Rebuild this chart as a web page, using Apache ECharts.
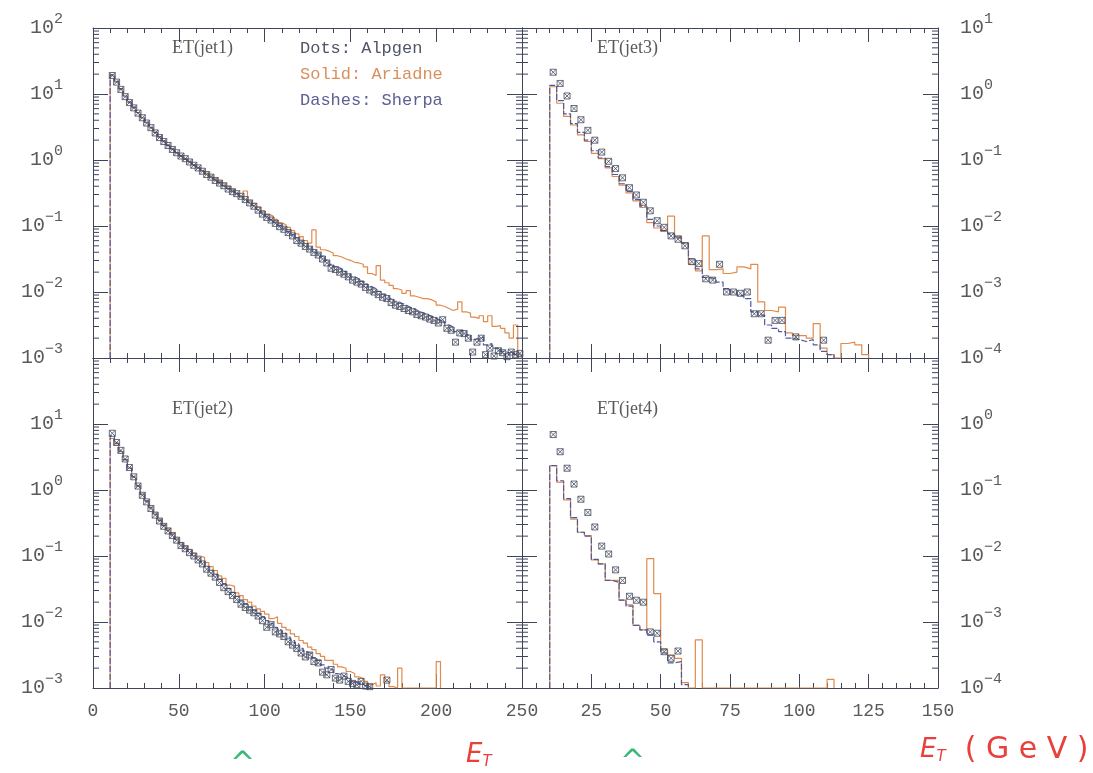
<!DOCTYPE html>
<html><head><meta charset="utf-8">
<script src="https://cdn.jsdelivr.net/npm/echarts@6/dist/echarts.min.js"></script>
<style>html,body{margin:0;padding:0;background:#fff;}#chart{width:1093px;height:773px;}</style>
</head><body><div id="chart"></div>
<script>
// ---------------- DATA (histograms, 2.5 GeV bins starting at 10 GeV; values stored as log10) ----------------
const BIN_START = 10, BIN_WIDTH = 2.5;
const panelTitles = ['ET(jet1)', 'ET(jet2)', 'ET(jet3)', 'ET(jet4)'];
const legendLabels = ['Dots: Alpgen', 'Solid: Ariadne', 'Dashes: Sherpa'];
const leftXTicks = [0, 50, 100, 150, 200, 250];
const rightXTicks = [0, 25, 50, 75, 100, 125, 150];
const leftYExponents = [-3, -2, -1, 0, 1, 2];
const rightYExponents = [-4, -3, -2, -1, 0, 1];

const jet1AlpgenLog10 = [1.28,1.18,1.07,0.96,0.87,0.79,0.71,0.64,0.56,0.49,0.41,0.34,0.28,0.22,0.16,0.11,0.06,0.02,-0.03,-0.08,
 -0.12,-0.17,-0.22,-0.26,-0.31,-0.35,-0.39,-0.44,-0.48,-0.51,-0.55,-0.60,-0.65,-0.70,-0.76,-0.82,-0.87,-0.91,-0.96,-1.01,
 -1.05,-1.10,-1.15,-1.22,-1.26,-1.31,-1.35,-1.40,-1.44,-1.50,-1.56,-1.64,-1.66,-1.70,-1.73,-1.77,-1.82,-1.85,-1.88,-1.93,
 -1.97,-2.00,-2.04,-2.08,-2.10,-2.16,-2.20,-2.22,-2.25,-2.28,-2.30,-2.34,-2.36,-2.38,-2.41,-2.43,-2.47,-2.42,-2.55,-2.58,
 -2.76,-2.62,-2.63,-2.70,-2.91,-2.76,-2.70,-2.95,-2.85,-2.97,-2.89,-2.92,-2.98,-2.91,-2.95,-2.93];
const jet1AriadneLog10 = [1.29,1.18,1.07,0.97,0.87,0.79,0.72,0.64,0.57,0.49,0.42,0.35,0.28,0.23,0.17,0.11,0.07,0.02,-0.02,-0.07,
 -0.11,-0.16,-0.20,-0.24,-0.28,-0.32,-0.36,-0.40,-0.45,-0.50,-0.56,-0.47,-0.62,-0.66,-0.71,-0.77,-0.82,-0.85,-0.90,-0.95,
 -0.98,-1.02,-1.07,-1.12,-1.16,-1.22,-1.26,-1.06,-1.32,-1.36,-1.38,-1.41,-1.45,-1.47,-1.50,-1.52,-1.55,-1.56,-1.58,-1.62,
 -1.72,-1.75,-1.60,-1.82,-1.86,-1.90,-1.95,-1.97,-2.02,-1.98,-2.06,-2.08,-2.10,-2.10,-2.12,-2.15,-2.20,-2.22,-2.25,-2.28,
 -2.26,-2.15,-2.30,-2.32,-2.38,-2.40,-2.36,-2.45,-2.36,-2.52,-2.51,-2.55,-2.62,-2.70,-2.50,null];
const jet1SherpaLog10 = [1.29,1.19,1.08,0.97,0.88,0.80,0.72,0.64,0.57,0.49,0.42,0.35,0.29,0.22,0.17,0.11,0.06,0.01,-0.03,-0.08,
 -0.12,-0.17,-0.21,-0.26,-0.30,-0.34,-0.39,-0.43,-0.47,-0.51,-0.55,-0.60,-0.64,-0.69,-0.75,-0.80,-0.85,-0.90,-0.94,-0.99,
 -1.03,-1.08,-1.13,-1.18,-1.23,-1.27,-1.32,-1.36,-1.41,-1.46,-1.52,-1.58,-1.62,-1.65,-1.69,-1.73,-1.77,-1.80,-1.84,-1.88,
 -1.92,-1.95,-1.99,-2.03,-2.06,-2.10,-2.14,-2.17,-2.20,-2.23,-2.26,-2.29,-2.32,-2.34,-2.37,-2.40,-2.43,-2.46,-2.50,-2.53,
 -2.60,-2.58,-2.60,-2.65,-2.72,-2.70,-2.68,-2.80,-2.78,-2.85,-2.86,-2.90,-2.92,-2.90,-2.94,-2.96];

const jet2AlpgenLog10 = [0.86,0.72,0.60,0.47,0.34,0.20,0.06,-0.08,-0.18,-0.28,-0.38,-0.47,-0.55,-0.62,-0.69,-0.76,-0.84,-0.89,-0.95,-1.00,
 -1.06,-1.12,-1.20,-1.26,-1.32,-1.40,-1.48,-1.54,-1.60,-1.66,-1.73,-1.78,-1.82,-1.86,-1.91,-1.98,-2.08,-2.04,-2.15,-2.18,
 -2.22,-2.30,-2.35,-2.40,-2.47,-2.53,-2.50,-2.60,-2.62,-2.76,-2.80,-2.72,-2.85,-2.88,-2.82,-2.90,-2.93,-2.95,-2.90,-2.97,
 -2.98,null,null,null,-2.88];
const jet2AriadneLog10 = [0.78,0.70,0.58,0.46,0.33,0.20,0.07,-0.06,-0.16,-0.26,-0.35,-0.44,-0.52,-0.59,-0.66,-0.73,-0.80,-0.85,-0.90,-0.96,
 -1.00,-1.02,-1.10,-1.16,-1.22,-1.30,-1.34,-1.44,-1.46,-1.56,-1.60,-1.66,-1.70,-1.76,-1.80,-1.84,-1.88,-1.95,-1.92,-2.02,
 -2.08,-2.12,-2.18,-2.22,-2.28,-2.32,-2.38,-2.42,-2.48,-2.52,-2.58,-2.58,-2.64,-2.68,-2.70,-2.75,-2.78,-2.83,-2.86,-2.90,
 -2.95,-2.92,-2.97,-2.80,-2.90,-2.98,null,-2.70,null,null,null,null,null,null,null,null,-2.60];
const jet2SherpaLog10 = [0.82,0.71,0.59,0.46,0.33,0.20,0.06,-0.07,-0.17,-0.27,-0.37,-0.46,-0.54,-0.61,-0.68,-0.75,-0.82,-0.88,-0.93,-0.99,
 -1.04,-1.09,-1.16,-1.22,-1.28,-1.35,-1.42,-1.49,-1.55,-1.61,-1.67,-1.72,-1.77,-1.82,-1.87,-1.92,-1.98,-2.02,-2.08,-2.12,
 -2.17,-2.23,-2.28,-2.33,-2.40,-2.45,-2.48,-2.54,-2.58,-2.65,-2.70,-2.72,-2.78,-2.80,-2.83,-2.86,-2.90,-2.93,-2.95,-2.97,-2.99];

const jet3AlpgenLog10 = [0.33,0.16,-0.03,-0.22,-0.39,-0.55,-0.70,-0.88,-1.02,-1.13,-1.27,-1.42,-1.53,-1.64,-1.77,-1.92,-2.02,-2.15,-2.20,-2.30,
 -2.54,-2.57,-2.80,-2.82,-2.58,-3.00,-3.00,-3.02,-3.00,-3.33,-3.33,-3.73,-3.43,-3.43,null,-3.68,null,null,null,-3.73];
const jet3AriadneLog10 = [0.11,-0.14,-0.34,-0.47,-0.62,-0.72,-0.90,-0.98,-1.12,-1.25,-1.38,-1.50,-1.62,-1.72,-1.95,-2.03,-2.08,-1.85,-2.15,-2.25,
 -2.58,-2.68,-2.15,-2.66,-2.65,-2.72,-2.70,-2.62,-2.65,-2.58,-3.15,-3.28,-3.30,-3.23,-3.62,-3.66,-3.66,-3.70,-3.48,-3.85,
 -3.95,null,-3.78,-3.76,-3.80,-3.95];
const jet3SherpaLog10 = [0.13,-0.10,-0.30,-0.45,-0.58,-0.70,-0.86,-0.97,-1.10,-1.22,-1.36,-1.48,-1.60,-1.70,-1.90,-2.00,-2.07,-2.12,-2.18,-2.26,
 -2.50,-2.65,-2.78,-2.80,-2.85,-2.95,-3.00,-3.05,-3.10,-3.30,-3.35,-3.50,-3.55,-3.60,-3.70,-3.72,-3.75,-3.72,-3.80,-3.90,-3.95];

const jet4AlpgenLog10 = [-0.16,-0.42,-0.67,-0.91,-1.14,-1.34,-1.56,-1.85,-1.97,-2.21,-2.37,-2.61,-2.67,-2.70,-3.15,-3.17,-3.45,-3.55,-3.44];
const jet4AriadneLog10 = [-0.63,-0.88,-1.15,-1.44,-1.64,-1.69,-2.06,-2.12,-2.37,-2.37,-2.67,-2.74,-3.05,-3.12,-2.04,-2.57,-3.42,-3.50,-3.55,-3.92,
 null,-3.27,null,null,null,null,null,null,null,null,null,null,null,null,null,null,null,null,null,null,-3.87];
const jet4SherpaLog10 = [-0.63,-0.86,-1.13,-1.42,-1.64,-1.70,-2.05,-2.12,-2.37,-2.40,-2.67,-2.76,-3.05,-3.12,-3.20,-3.30,-3.47,-3.62,-3.60,-3.95];

// ---------------- STYLE ----------------
const AX = '#3e4459';
const TXT = '#5a5a5a';
const ORANGE = '#e08b4c';
const BLUE = '#4d5a9e';
const DOT = '#454b5e';
const MONO = '"Liberation Mono", "DejaVu Sans Mono", monospace';
const SERIF = '"Liberation Serif", "DejaVu Serif", serif';

const grids = [
  {left: 93, top: 28, width: 429, height: 330},   // jet1
  {left: 93, top: 358, width: 429, height: 330},  // jet2
  {left: 522, top: 28, width: 416, height: 330},  // jet3
  {left: 522, top: 358, width: 416, height: 330}  // jet4
];
const panelSpec = [
  {xmax: 250, xint: 50, ymin: 1e-3, ymax: 1e2, exps: leftYExponents, labelSide: 'left', showX: false, hideTop: false},
  {xmax: 250, xint: 50, ymin: 1e-3, ymax: 1e2, exps: leftYExponents, labelSide: 'left', showX: true, hideTop: true},
  {xmax: 150, xint: 25, ymin: 1e-4, ymax: 1e1, exps: rightYExponents, labelSide: 'right', showX: false, hideTop: false},
  {xmax: 150, xint: 25, ymin: 1e-4, ymax: 1e1, exps: rightYExponents, labelSide: 'right', showX: true, hideTop: true}
];
const panelData = [
  [jet1AlpgenLog10, jet1AriadneLog10, jet1SherpaLog10],
  [jet2AlpgenLog10, jet2AriadneLog10, jet2SherpaLog10],
  [jet3AlpgenLog10, jet3AriadneLog10, jet3SherpaLog10],
  [jet4AlpgenLog10, jet4AriadneLog10, jet4SherpaLog10]
];

function powLabel(v) {
  const e = Math.round(Math.log10(v));
  return '{b|10}{s|' + (e < 0 ? '\u2212' + (-e) : e) + '}';
}
const richY = {
  b: {fontSize: 20, fontFamily: MONO, color: TXT},
  s: {fontSize: 15, fontFamily: MONO, color: TXT, padding: [0, 0, 18, 0]}
};

function histPoints(vals, floor) {
  const pts = [[BIN_START, floor]];
  vals.forEach((lv, i) => {
    const y = lv === null ? floor : Math.pow(10, lv);
    const x0 = BIN_START + i * BIN_WIDTH, x1 = x0 + BIN_WIDTH;
    pts.push([x0, y], [x1, y]);
  });
  pts.push([BIN_START + vals.length * BIN_WIDTH, floor]);
  return pts;
}
function dotPoints(vals) {
  const out = [];
  vals.forEach((lv, i) => { if (lv !== null) out.push([BIN_START + (i + 0.5) * BIN_WIDTH, Math.pow(10, lv)]); });
  return out;
}
function minorLogValues(minExp, maxExp) {
  const out = [];
  for (let e = minExp; e < maxExp; e++) for (let m = 2; m <= 9; m++) out.push(m * Math.pow(10, e));
  return out;
}

const xAxes = [], yAxes = [], series = [];
grids.forEach((g, gi) => {
  const sp = panelSpec[gi];
  const isRight = gi >= 2;
  ['bottom', 'top'].forEach(pos => {
    xAxes.push({
      type: 'value', gridIndex: gi, position: pos, min: 0, max: sp.xmax, interval: sp.xint,
      axisLine: {show: true, onZero: false, lineStyle: {color: AX, width: 1}},
      axisTick: {show: true, inside: true, length: 14, lineStyle: {color: AX, width: 1}},
      minorTick: {show: true, splitNumber: 5, length: 5, lineStyle: {color: AX, width: 1}},
      splitLine: {show: false}, minorSplitLine: {show: false},
      axisLabel: {
        show: pos === 'bottom' && sp.showX, margin: 14, color: TXT, fontSize: 18, fontFamily: MONO,
        showMinLabel: !isRight, showMaxLabel: true
      }
    });
  });
  ['left', 'right'].forEach(pos => {
    yAxes.push({
      type: 'log', logBase: 10, gridIndex: gi, position: pos, min: sp.ymin, max: sp.ymax, splitNumber: 5,
      axisLine: {show: true, onZero: false, lineStyle: {color: AX, width: 1}},
      axisTick: {show: true, inside: true, length: 15, lineStyle: {color: AX, width: 1}},
      splitLine: {show: false},
      axisLabel: {
        show: pos === sp.labelSide, margin: pos === 'left' ? 30 : 22, formatter: powLabel, rich: richY,
        showMaxLabel: !sp.hideTop, showMinLabel: true
      }
    });
  });
  const floor = sp.ymin;
  const [alp, ari, she] = panelData[gi];
  series.push({
    type: 'line', xAxisIndex: gi * 2, yAxisIndex: gi * 2, data: histPoints(ari, floor),
    showSymbol: false, symbol: 'none', lineStyle: {color: ORANGE, width: 1.2}, z: 2, animation: false, silent: true
  });
  series.push({
    type: 'line', xAxisIndex: gi * 2, yAxisIndex: gi * 2, data: histPoints(she, floor),
    showSymbol: false, symbol: 'none', lineStyle: {color: BLUE, width: 1.2, type: [6, 2]}, z: 3, animation: false, silent: true
  });
  series.push({
    type: 'scatter', xAxisIndex: gi * 2, yAxisIndex: gi * 2, data: dotPoints(alp),
    symbol: 'path://M0,0H10V10H0Z M0,0L10,10 M10,0L0,10', symbolSize: 6,
    itemStyle: {color: 'rgba(255,255,255,0)', borderColor: DOT, borderWidth: 1}, z: 4, animation: false, silent: true
  });
  // log-axis minor ticks on both vertical edges (drawn through the axis scale)
  const minExp = Math.round(Math.log10(sp.ymin)), maxExp = Math.round(Math.log10(sp.ymax));
  const minors = minorLogValues(minExp, maxExp);
  [[0, 1], [sp.xmax, -1]].forEach(([xe, dir]) => {
    series.push({
      type: 'custom', xAxisIndex: gi * 2, yAxisIndex: gi * 2, clip: false, silent: true, animation: false, z: 5,
      data: minors.map(v => [xe, v, dir]),
      renderItem: function (params, api) {
        const p = api.coord([api.value(0), api.value(1)]);
        const d = api.value(2);
        return {type: 'line', shape: {x1: p[0], y1: p[1], x2: p[0] + d * 6, y2: p[1]}, style: {stroke: AX, lineWidth: 1}};
      }
    });
  });
});

const titlePos = [[172, 39], [172, 400], [597, 39], [597, 400]];
const graphic = panelTitles.map((t, i) => ({
  type: 'text', left: titlePos[i][0], top: titlePos[i][1],
  style: {text: t, font: '18px ' + SERIF, fill: TXT}
}));
const legendColors = ['#4f5468', '#d98f5c', '#5d6091'];
legendLabels.forEach((t, i) => graphic.push({
  type: 'text', left: 300, top: 40 + i * 26,
  style: {text: t, font: '17px ' + MONO, fill: legendColors[i]}
}));
// hand-written annotations below the plot
graphic.push({type: 'text', left: 466, top: 742, style: {rich: {e: {font: 'italic 26px "DejaVu Sans"', fill: '#e8403a'}, t: {font: 'italic 15px "DejaVu Sans"', fill: '#e8403a', padding: [14, 0, 0, 0]}}, text: '{e|E}{t|T}'}});
graphic.push({type: 'text', left: 920, top: 735, style: {rich: {e: {font: 'italic 26px "DejaVu Sans"', fill: '#e8403a'}, t: {font: 'italic 15px "DejaVu Sans"', fill: '#e8403a', padding: [14, 0, 0, 0]}, g: {font: '30px "DejaVu Sans"', fill: '#e8403a'}}, text: '{e|E}{t|T}{g|  ( G e V )}'}});
graphic.push({type: 'text', left: 230, top: 750, style: {text: '^', font: '30px "DejaVu Sans"', fill: '#3bb77a'}});
graphic.push({type: 'text', left: 620, top: 748, style: {text: '^', font: '30px "DejaVu Sans"', fill: '#3bb77a'}});

const chart = echarts.init(document.getElementById('chart'), null, {renderer: 'canvas'});
chart.setOption({
  backgroundColor: '#ffffff',
  animation: false,
  grid: grids.map(g => Object.assign({containLabel: false, outerBoundsMode: 'none'}, g)),
  xAxis: xAxes,
  yAxis: yAxes,
  series: series,
  graphic: graphic
});
</script>
</body></html>
